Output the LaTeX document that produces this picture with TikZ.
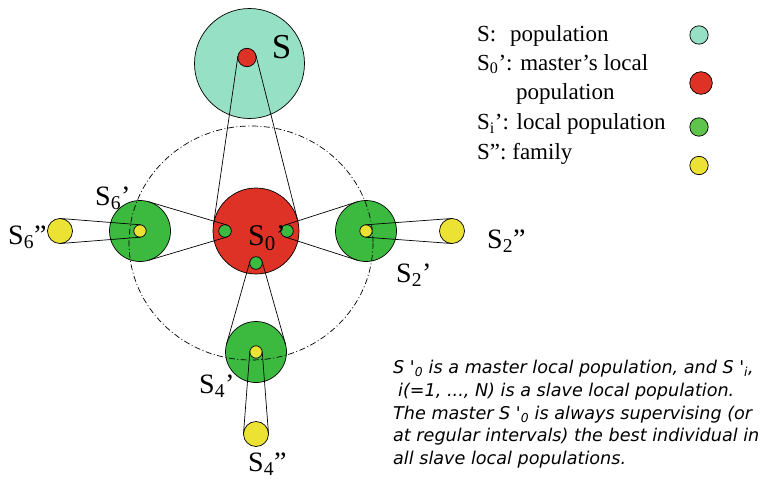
\documentclass[tikz,border=0pt]{standalone}
\usepackage{fontspec}
\setmainfont{Liberation Serif}
\newfontfamily\notefont{DejaVu Sans}
\usepackage{tikz}
\usetikzlibrary{positioning,calc}

\definecolor{popteal}{RGB}{150,224,198}
\definecolor{popred}{RGB}{222,50,38}
\definecolor{popgreen}{RGB}{60,186,64}
\definecolor{legendgreen}{RGB}{94,196,76}
\definecolor{popyellow}{RGB}{236,226,52}

\begin{document}
\begin{tikzpicture}[x=1pt, y=-1pt,
  pop/.style={circle, draw=black, line width=0.7pt, inner sep=0pt, outer sep=0pt},
  belt/.style={line width=0.7pt, black},
  ring/.style={line width=0.7pt, dash pattern=on 6pt off 2.5pt on 1pt off 2.5pt},
  lbl/.style={anchor=base west, inner sep=0pt, font=\fontsize{28}{30}\selectfont},
  legtext/.style={anchor=base west, inner sep=0pt, font=\fontsize{23}{26}\selectfont}
]
\useasboundingbox (0,0) rectangle (768,479);

% ---- Populations ----
\node[pop, fill=popteal, minimum size=110pt]   (S)    at (249.5,63.5) {};
\node[pop, fill=popred, minimum size=18.4pt]   (Sbest) at (247,57.5) {};
\node[pop, fill=popred, minimum size=86pt]     (S0)   at (256,231) {};

% local populations S2', S4', S6'
\node[pop, fill=popgreen, minimum size=61pt]   (S2)   at (366,231) {};
\node[pop, fill=popgreen, minimum size=61pt]   (S4)   at (256,352) {};
\node[pop, fill=popgreen, minimum size=61pt]   (S6)   at (140,231) {};

% best individuals kept by the master
\node[pop, fill=popgreen, minimum size=12.6pt] (m2)   at (287,231) {};
\node[pop, fill=popgreen, minimum size=12.6pt] (m4)   at (256,263) {};
\node[pop, fill=popgreen, minimum size=12.6pt] (m6)   at (225,231) {};

% families
\node[pop, fill=popyellow, minimum size=12.4pt] (f2)  at (366,231) {};
\node[pop, fill=popyellow, minimum size=12.4pt] (f4)  at (256,352) {};
\node[pop, fill=popyellow, minimum size=12.4pt] (f6)  at (140,231) {};
\node[pop, fill=popyellow, minimum size=25pt]   (F2)  at (452,231) {};
\node[pop, fill=popyellow, minimum size=25pt]   (F4)  at (256,434) {};
\node[pop, fill=popyellow, minimum size=25pt]   (F6)  at (60,231) {};

% ---- Master's ring ----
\draw[ring] (251,243) ellipse [x radius=122, y radius=117];

% ---- Belts ----
\draw[belt] (S0.171.8) -- (Sbest.171.8);
\draw[belt] (S0.14.2)  -- (Sbest.14.2);

\draw[belt] (S6.73.5)   -- (m6.73.5);
\draw[belt] (S6.-73.5)  -- (m6.-73.5);
\draw[belt] (S2.107.8)  -- (m2.107.8);
\draw[belt] (S2.-107.8) -- (m2.-107.8);
\draw[belt] (S4.164.2)  -- (m4.164.2);
\draw[belt] (S4.15.8)   -- (m4.15.8);

\draw[belt] (F6.85.5)   -- (f6.85.5);
\draw[belt] (F6.-85.5)  -- (f6.-85.5);
\draw[belt] (F2.94.2)   -- (f2.94.2);
\draw[belt] (F2.-94.2)  -- (f2.-94.2);
\draw[belt] (F4.4.4)    -- (f4.4.4);
\draw[belt] (F4.175.6)  -- (f4.175.6);

% ---- Labels ----
\node[anchor=center, inner sep=0pt, font=\fontsize{35}{38}\selectfont] (labS) at (281.5,47) {S};
\node[lbl, font=\fontsize{30}{32}\selectfont] (labS0) at (248,245) {S\textsubscript{0}’};
\node[lbl] (labS2)  at (396,282) {S\textsubscript{2}’};
\node[lbl] (labS4)  at (199,393) {S\textsubscript{4}’};
\node[lbl] (labS6)  at (95,205)  {S\textsubscript{6}’};
\node[lbl] (labF2)  at (487,248) {S\textsubscript{2}”};
\node[lbl] (labF4)  at (248,471) {S\textsubscript{4}”};
\node[lbl] (labF6)  at (8,244)   {S\textsubscript{6}”};

% ---- Legend ----
\node[legtext] (leg1)  at (477,41.7)  {S:\hspace{0.6em}population};
\node[legtext] (leg2)  at (477,70)    {S\textsubscript{0}’: master’s local};
\node[legtext] (leg2b) at (516,99)    {population};
\node[legtext] (leg3)  at (477,129.3) {S\textsubscript{i}’: local population};
\node[legtext] (leg4)  at (477,159.3) {S”: family};

\node[pop, fill=popteal, minimum size=18.4pt]     (keyS)  at (699,35)    {};
\node[pop, fill=popred, minimum size=22.6pt]      (keyS0) at (701,83)    {};
\node[pop, fill=legendgreen, minimum size=18.4pt] (keySi) at (699,127)   {};
\node[pop, fill=popyellow, minimum size=18.4pt]   (keyF)  at (699,165.5) {};

% ---- Note ----
\node[anchor=north west, inner sep=0pt, align=left,
      font=\notefont\itshape\fontsize{17.6}{22.8}\selectfont] (note) at (393,360)
  {S '\textsubscript{0} is a master local population, and S '\textsubscript{i},\\
   \hspace{5pt}i(=1, ..., N) is a slave local population.\\
   The master S '\textsubscript{0} is always supervising (or\\
   at regular intervals) the best individual in\\
   all slave local populations.};

\end{tikzpicture}
\end{document}
